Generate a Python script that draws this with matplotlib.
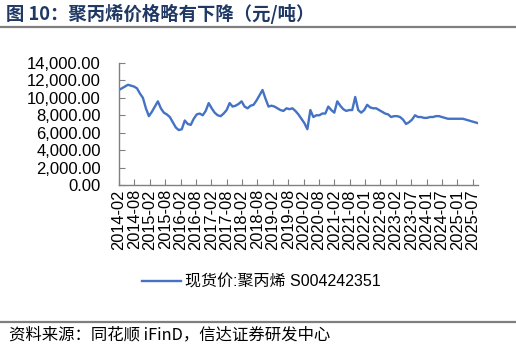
import matplotlib
matplotlib.use("Agg")
import matplotlib.pyplot as plt
import numpy as np
from matplotlib.lines import Line2D

plt.rcParams["font.family"] = ["Liberation Sans", "Noto Sans CJK SC", "DejaVu Sans"]

# Spot price of polypropylene (yuan/ton), evenly spaced samples
prices = [
    10900, 11100, 11300, 11500, 11400, 11300, 11100, 10500, 10000, 8800,
    7900, 8400, 9000, 9600, 8800, 8300, 8100, 7800, 7200, 6600,
    6300, 6400, 7400, 7000, 6900, 7600, 8100, 8200, 8000, 8500,
    9400, 8800, 8300, 8000, 7900, 8200, 8600, 9400, 9000, 9100,
    9300, 9600, 9000, 8800, 9100, 9200, 9700, 10300, 10900, 9900,
    9000, 9100, 9000, 8800, 8600, 8500, 8800, 8700, 8800, 8500,
    8100, 7600, 7100, 6400, 8600, 7800, 8000, 8000, 8200, 8200,
    9000, 8600, 8300, 9600, 9100, 8700, 8500, 8600, 8600, 10100,
    8600, 8300, 8600, 9200, 8900, 8800, 8800, 8600, 8400, 8200,
    8100, 7800, 7900, 7900, 7800, 7500, 7000, 7200, 7500, 8000,
    7800, 7800, 7700, 7700, 7800, 7800, 7900, 7900, 7800, 7700,
    7600, 7600, 7600, 7600, 7600, 7600, 7500, 7400, 7300, 7200,
    7100,
]

tick_labels = [
    "2014-02", "2014-08", "2015-02", "2015-08", "2016-02", "2016-08",
    "2017-02", "2017-08", "2018-02", "2018-08", "2019-02", "2019-08",
    "2020-02", "2020-08", "2021-02", "2021-08", "2022-01", "2022-08",
    "2023-02", "2023-07", "2024-01", "2024-07", "2025-01", "2025-07",
]

series_name = "现货价:聚丙烯 S004242351"
title = "图 10：聚丙烯价格略有下降（元/吨）"
source = "资料来源：同花顺 iFinD，信达证券研发中心"

fig = plt.figure(figsize=(5.16, 3.48), dpi=100)
ax = fig.add_axes([0.2306, 0.4684, 0.6954, 0.3506])

x = np.arange(len(prices))
line, = ax.plot(x, prices, color="#4472C4", linewidth=1.7, label=series_name)

ax.set_xlim(0, len(prices) - 1)
ax.set_ylim(0, 14000)
ax.set_yticks(np.arange(0, 14001, 2000))
ax.yaxis.set_major_formatter(matplotlib.ticker.FuncFormatter(lambda v, p: f"{v:,.2f}"))

ticks = np.linspace(0, len(prices) - 2.7, len(tick_labels))
ax.set_xticks(ticks)
ax.set_xticklabels(tick_labels, rotation=90)

for side in ["top", "right"]:
    ax.spines[side].set_visible(False)
for side in ["left", "bottom"]:
    ax.spines[side].set_color("#808080")
    ax.spines[side].set_linewidth(1.0)
ax.tick_params(axis="both", direction="in", length=4, color="#808080",
               labelsize=12, labelcolor="black")
ax.tick_params(axis="y", pad=13)
ax.tick_params(axis="x", pad=3, labelsize=11.8)

# Legend below the axes
fig.legend(
    handles=[line],
    loc="center left",
    bbox_to_anchor=(0.2746, 0.19),
    frameon=False,
    fontsize=11.5,
    handlelength=2.45,
    handletextpad=0.25,
    borderpad=0,
    borderaxespad=0,
)

# Title and rules
fig.text(0.012, 0.96, title, fontsize=13.2, fontweight="bold", color="#1F3864",
         va="center", ha="left", family=["Noto Sans CJK SC"])
fig.add_artist(Line2D([0, 1], [0.922, 0.922], color="#7F7F7F", linewidth=1.6))
fig.add_artist(Line2D([0, 1], [0.075, 0.075], color="#7F7F7F", linewidth=1.6))
fig.text(0.018, 0.037, source, fontsize=11.8, color="black", va="center", ha="left",
         family=["Noto Sans CJK SC"])

fig.savefig("out.png", dpi=100)
plt.close(fig)
